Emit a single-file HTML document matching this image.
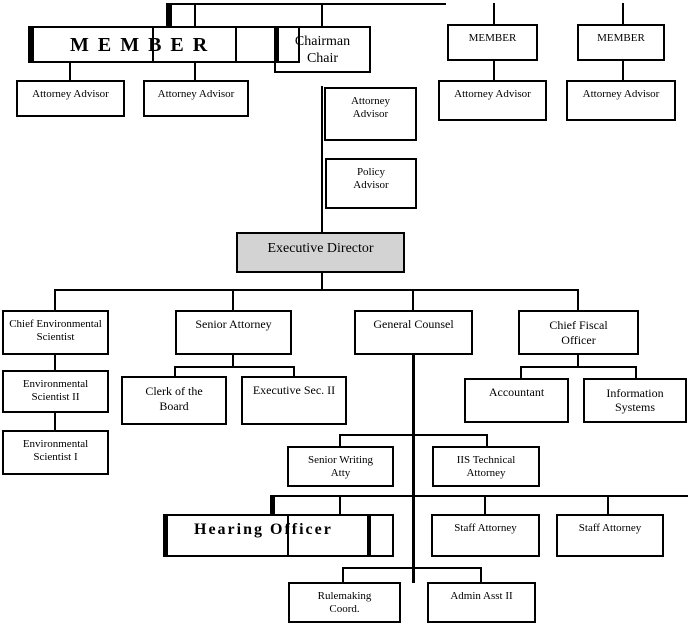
<!DOCTYPE html>
<html><head><meta charset="utf-8"><style>
body{margin:0;width:688px;height:626px;background:#fff;position:relative;overflow:hidden;font-family:"Liberation Serif",serif;}
.b{position:absolute;box-sizing:border-box;border:2px solid #000;background:#fff;text-align:center;font-size:11px;line-height:13px;padding-top:6px;color:#000}
.t{background:transparent}
.l{position:absolute;background:#000}
</style></head><body>
<div class="l" style="left:166px;top:3px;width:280px;height:2px"></div>
<div class="l" style="left:166px;top:3px;width:6px;height:24px"></div>
<div class="l" style="left:194px;top:3px;width:2px;height:24px"></div>
<div class="l" style="left:321px;top:3px;width:2px;height:24px"></div>
<div class="l" style="left:493px;top:3px;width:2px;height:22px"></div>
<div class="l" style="left:622px;top:3px;width:2px;height:22px"></div>

<div class="b t" style="left:28px;top:26px;width:272px;height:37px;border-left:6px solid #000;font-size:20px;font-weight:bold;letter-spacing:9px;padding-top:7px;text-align:left;padding-left:36px;line-height:20px">MEMBER</div>
<div class="b t" style="left:152px;top:26px;width:85px;height:37px"></div>
<div class="b t" style="left:274px;top:26px;width:97px;height:47px;font-size:14px;line-height:17px;padding-top:5px">Chairman<br>Chair</div>
<div class="l" style="left:274px;top:26px;width:5px;height:37px"></div>
<div class="b" style="left:447px;top:24px;width:91px;height:37px">MEMBER</div>
<div class="b" style="left:577px;top:24px;width:88px;height:37px">MEMBER</div>

<div class="l" style="left:69px;top:62px;width:2px;height:19px"></div>
<div class="l" style="left:194px;top:62px;width:2px;height:19px"></div>
<div class="l" style="left:493px;top:60px;width:2px;height:21px"></div>
<div class="l" style="left:622px;top:60px;width:2px;height:21px"></div>

<div class="b" style="left:16px;top:80px;width:109px;height:37px">Attorney Advisor</div>
<div class="b" style="left:143px;top:80px;width:106px;height:37px">Attorney Advisor</div>
<div class="b" style="left:324px;top:87px;width:93px;height:54px">Attorney<br>Advisor</div>
<div class="b" style="left:438px;top:80px;width:109px;height:41px">Attorney Advisor</div>
<div class="b" style="left:566px;top:80px;width:110px;height:41px">Attorney Advisor</div>

<div class="l" style="left:321px;top:86px;width:2px;height:147px"></div>
<div class="b" style="left:325px;top:158px;width:92px;height:51px">Policy<br>Advisor</div>

<div class="b" style="left:236px;top:232px;width:169px;height:41px;background:#d3d3d3;font-size:14px;padding-top:8px">Executive Director</div>
<div class="l" style="left:321px;top:272px;width:2px;height:19px"></div>
<div class="l" style="left:54px;top:289px;width:525px;height:2px"></div>
<div class="l" style="left:54px;top:289px;width:2px;height:22px"></div>
<div class="l" style="left:232px;top:289px;width:2px;height:22px"></div>
<div class="l" style="left:412px;top:289px;width:2px;height:22px"></div>
<div class="l" style="left:577px;top:289px;width:2px;height:22px"></div>

<div class="b" style="left:2px;top:310px;width:107px;height:45px">Chief Environmental<br>Scientist</div>
<div class="b" style="left:175px;top:310px;width:117px;height:45px;font-size:12px">Senior Attorney</div>
<div class="b" style="left:354px;top:310px;width:119px;height:45px;font-size:12px">General Counsel</div>
<div class="b" style="left:518px;top:310px;width:121px;height:45px;font-size:12px;line-height:15px">Chief Fiscal<br>Officer</div>

<div class="l" style="left:54px;top:354px;width:2px;height:17px"></div>
<div class="b" style="left:2px;top:370px;width:107px;height:43px">Environmental<br>Scientist II</div>
<div class="l" style="left:54px;top:412px;width:2px;height:19px"></div>
<div class="b" style="left:2px;top:430px;width:107px;height:45px">Environmental<br>Scientist I</div>

<div class="l" style="left:232px;top:354px;width:2px;height:13px"></div>
<div class="l" style="left:174px;top:366px;width:121px;height:2px"></div>
<div class="l" style="left:174px;top:366px;width:2px;height:11px"></div>
<div class="l" style="left:293px;top:366px;width:2px;height:11px"></div>
<div class="b" style="left:121px;top:376px;width:106px;height:49px;font-size:12px;line-height:15px">Clerk of the<br>Board</div>
<div class="b" style="left:241px;top:376px;width:106px;height:49px;font-size:12px">Executive Sec. II</div>

<div class="l" style="left:577px;top:354px;width:2px;height:13px"></div>
<div class="l" style="left:520px;top:366px;width:117px;height:2px"></div>
<div class="l" style="left:520px;top:366px;width:2px;height:13px"></div>
<div class="l" style="left:635px;top:366px;width:2px;height:13px"></div>
<div class="b" style="left:464px;top:378px;width:105px;height:45px;font-size:12px">Accountant</div>
<div class="b" style="left:583px;top:378px;width:104px;height:45px;font-size:12px;line-height:14px">Information<br>Systems</div>

<div class="l" style="left:412px;top:354px;width:3px;height:229px"></div>
<div class="l" style="left:339px;top:434px;width:149px;height:2px"></div>
<div class="l" style="left:339px;top:434px;width:2px;height:13px"></div>
<div class="l" style="left:486px;top:434px;width:2px;height:13px"></div>
<div class="b" style="left:287px;top:446px;width:107px;height:41px">Senior Writing<br>Atty</div>
<div class="b" style="left:432px;top:446px;width:108px;height:41px">IIS Technical<br>Attorney</div>

<div class="l" style="left:270px;top:495px;width:418px;height:2px"></div>
<div class="l" style="left:270px;top:495px;width:5px;height:20px"></div>
<div class="l" style="left:339px;top:495px;width:2px;height:20px"></div>
<div class="l" style="left:484px;top:495px;width:2px;height:20px"></div>
<div class="l" style="left:607px;top:495px;width:2px;height:20px"></div>

<div class="b t" style="left:287px;top:514px;width:107px;height:43px"></div>
<div class="b t" style="left:163px;top:514px;width:208px;height:43px;border-left:5px solid #000;border-right:4px solid #000;font-size:16px;font-weight:bold;letter-spacing:2px;text-align:left;padding-left:26px;padding-top:5px;line-height:18px">Hearing Officer</div>
<div class="b" style="left:431px;top:514px;width:109px;height:43px">Staff Attorney</div>
<div class="b" style="left:556px;top:514px;width:108px;height:43px">Staff Attorney</div>

<div class="l" style="left:342px;top:567px;width:140px;height:2px"></div>
<div class="l" style="left:342px;top:567px;width:2px;height:16px"></div>
<div class="l" style="left:480px;top:567px;width:2px;height:16px"></div>
<div class="b" style="left:288px;top:582px;width:113px;height:41px">Rulemaking<br>Coord.</div>
<div class="b" style="left:427px;top:582px;width:109px;height:41px">Admin Asst II</div>
</body></html>
